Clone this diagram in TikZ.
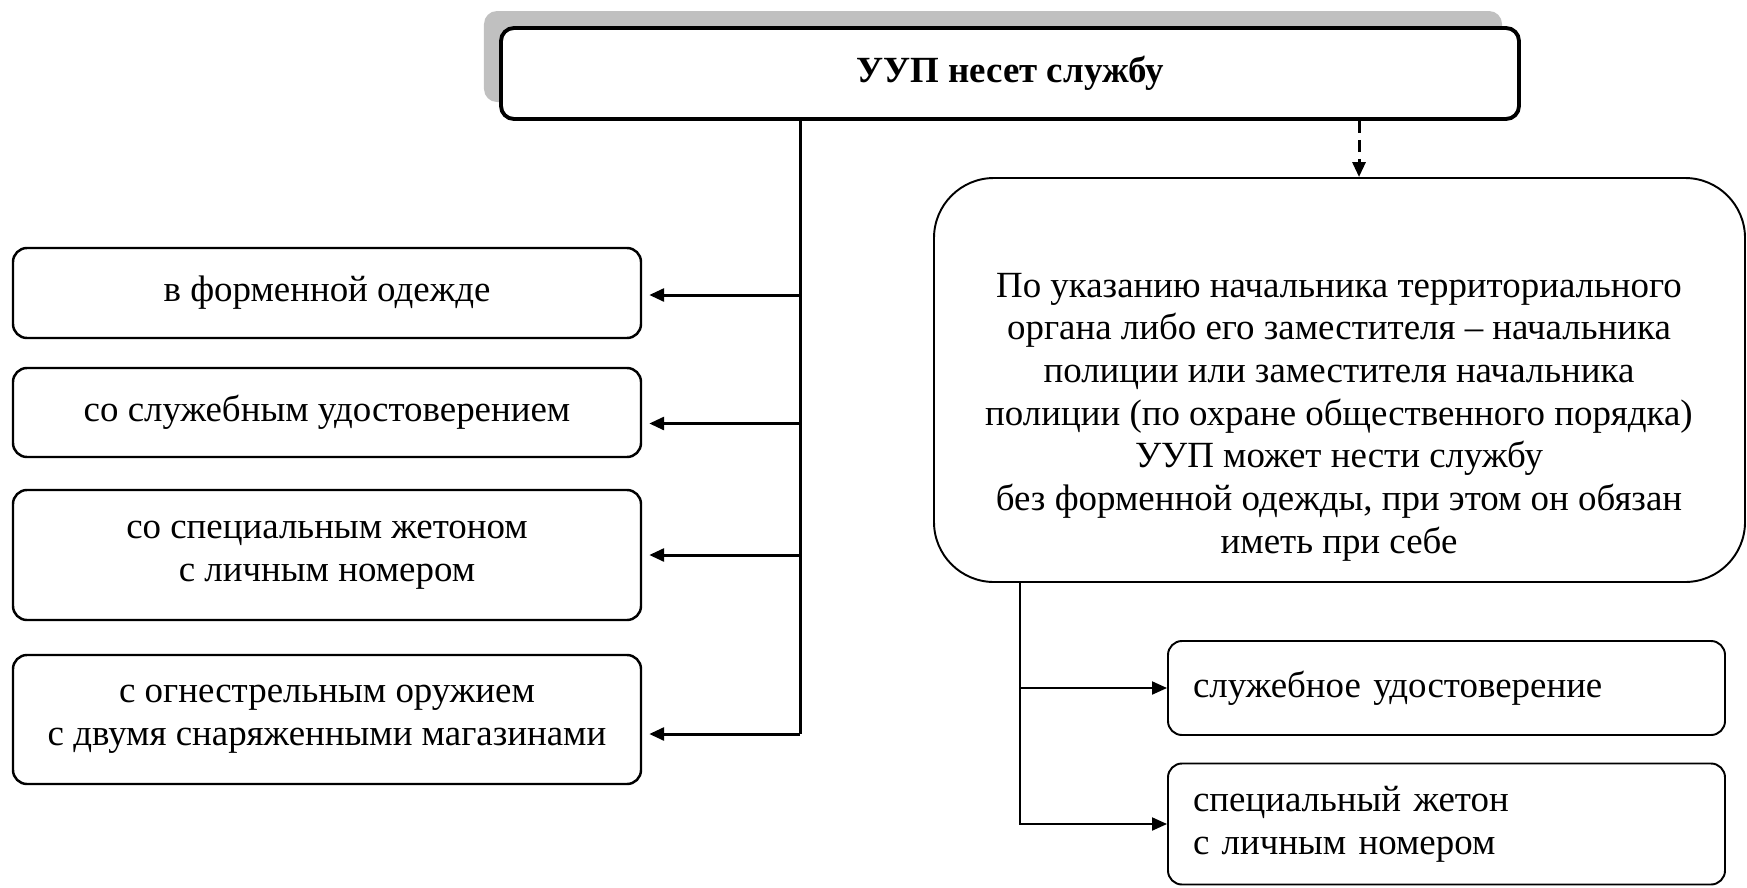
\documentclass[tikz,border=0pt]{standalone}
\usepackage{fontspec}
\setmainfont{Liberation Serif}
\usetikzlibrary{arrows.meta,shadows}
\definecolor{shadowgray}{RGB}{192,192,192}
\tikzset{
  every node/.style={font=\fontsize{21}{24.3}\selectfont},
  headbox/.style={draw, rounded corners=2.6mm, line width=2.2pt, fill=white,
    minimum width=203.6mm, minimum height=18.2mm, inner sep=0pt,
    drop shadow={shadow xshift=-3.4mm, shadow yshift=3.4mm, fill=shadowgray, opacity=1}},
  leftbox/.style={draw, rounded corners=2.8mm, line width=1.4pt,
    minimum width=125.6mm, align=center, inner sep=0pt},
  rightbox/.style={draw, rounded corners=2.8mm, line width=1.1pt,
    minimum width=111.4mm, text width=101.4mm, inner xsep=5mm, inner ysep=0pt, align=left},
  bigbox/.style={draw, rounded corners=12mm, line width=1.1pt,
    minimum width=162.2mm, minimum height=80.8mm, inner sep=0pt},
  arr/.style={-{Triangle[length=3mm, width=2.6mm]}},
}
\begin{document}
\begin{tikzpicture}[x=0.2mm, y=-0.2mm]
  \useasboundingbox (0,0) rectangle (1747,887);
  % top
  \node[headbox] (top) at (1010,73.5) {\textbf{УУП несет службу}};
  % left column
  \node[leftbox, minimum height=18mm] (b1) at (327,293) {в форменной одежде};
  \node[leftbox, minimum height=17.8mm] (b2) at (327,412.5) {со служебным удостоверением};
  \node[leftbox, minimum height=26mm] (b3) at (327,555) {со специальным жетоном\\с личным номером};
  \node[leftbox, minimum height=25.8mm] (b4) at (327,719.5) {с огнестрельным оружием\\с двумя снаряженными магазинами};
  % right column
  \node[bigbox] (big) at (1339.5,380) {};
  \node[align=center, inner sep=0pt] (bigtxt) at (1339,417)
    {По указанию начальника территориального\\органа либо его заместителя -- начальника\\полиции или заместителя начальника\\полиции (по охране общественного порядка)\\УУП может нести службу\\без форменной одежды, при этом он обязан\\иметь при себе};
  \node[rightbox, minimum height=18.8mm] (sA) at (1446.5,688) {служебное удостоверение};
  \node[rightbox, minimum height=24.2mm] (sB) at (1446.5,824) {специальный жетон\\с личным номером};
  \coordinate (tr) at (800,734);
  \coordinate (br) at ([xshift=17.4mm]big.south west);
  \begin{scope}[line width=1.7pt]
    \draw (top.south -| tr) -- (tr);
    \draw[arr, shorten >=1.4mm] ([yshift=-0.4mm]b1.east -| tr) -- ([yshift=-0.4mm]b1.east);
    \draw[arr, shorten >=1.4mm] ([yshift=-2.2mm]b2.east -| tr) -- ([yshift=-2.2mm]b2.east);
    \draw[arr, shorten >=1.4mm] (b3.east -| tr) -- (b3.east);
    \draw[arr, shorten >=1.4mm] (tr) -- (tr -| b4.east);
  \end{scope}
  \begin{scope}[line width=1.1pt]
    \draw[arr, line width=1.7pt, dash pattern=on 2.4mm off 1.4mm]
      ([xshift=69.8mm]top.south) -- ([xshift=69.8mm]top.south |- big.north);
    \draw[arr] (br) |- (sB.west);
    \draw[arr] (br |- sA.west) -- (sA.west);
  \end{scope}
\end{tikzpicture}
\end{document}
